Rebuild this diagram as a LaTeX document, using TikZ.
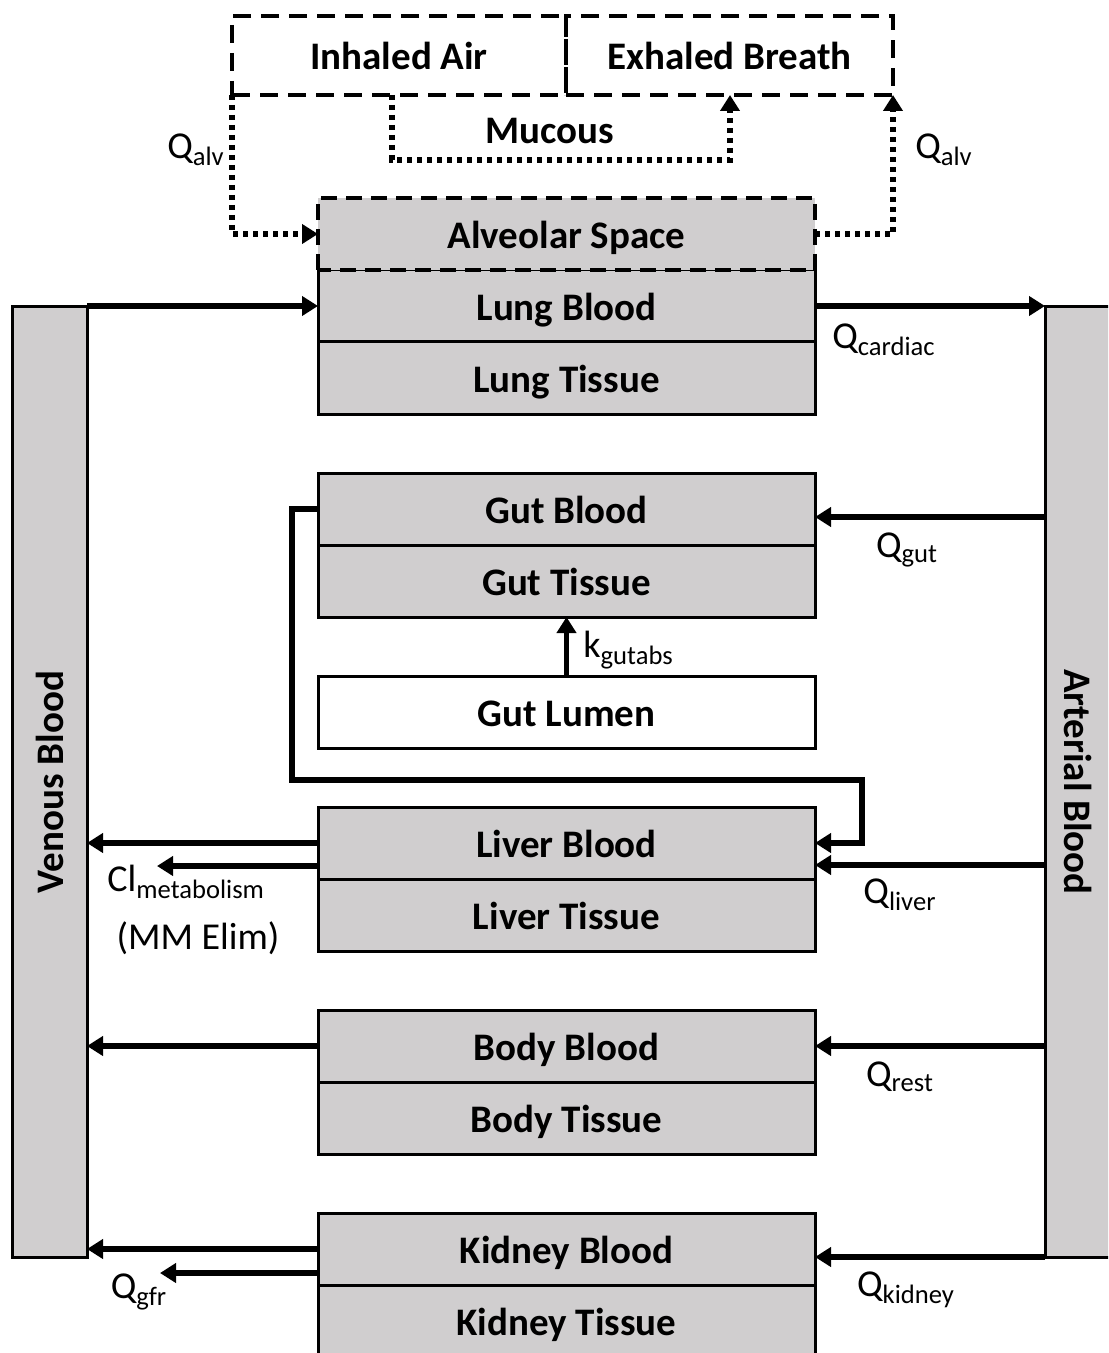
\documentclass[tikz,border=0pt]{standalone}
\usepackage{fontspec}
\setmainfont{Carlito}
\usepackage{graphicx}
\usepackage{tikz}
\usetikzlibrary{arrows.meta,positioning,calc}
\definecolor{boxgray}{RGB}{208,206,207}
\tikzset{
  comp/.style={draw, line width=1.5pt, fill=boxgray, minimum width=248.5pt,
    minimum height=36pt, inner sep=0pt, outer sep=0pt,
    text height=1.45em, text depth=0pt,
    font=\fontsize{19.5}{23}\selectfont\bfseries},
  airbox/.style={draw, line width=2.3pt, dash pattern=on 9pt off 5pt,
    minimum height=39.5pt, inner sep=0pt, outer sep=0pt,
    text height=1.45em, text depth=0pt,
    font=\fontsize{19.5}{23}\selectfont\bfseries},
  pool/.style={draw, line width=1.5pt, fill=boxgray, minimum width=37.5pt,
    minimum height=475pt, inner sep=0pt, outer sep=0pt,
    font=\fontsize{19.5}{23}\selectfont\bfseries},
  flow/.style={line width=2.8pt, -{Triangle[length=8pt,width=9.5pt]}},
  airflow/.style={line width=2.6pt, dash pattern=on 2.6pt off 2.4pt,
    -{Triangle[length=8pt,width=9.5pt]}},
  lbl/.style={inner sep=0pt, font=\fontsize{19}{23}\selectfont}
}
\begin{document}
\begin{tikzpicture}[x=0.5pt, y=-0.5pt]
    \useasboundingbox (0,0) rectangle (1108,1353);
    \clip (0,0) rectangle (1108,1353);

    % Air side
    \node[airbox, minimum width=167pt] (inhaled) at (399,55.5) {Inhaled Air};
    \node[airbox, minimum width=163.5pt] (exhaled) at (729.5,55.5) {Exhaled Breath};
    \node[font=\fontsize{19.5}{23}\selectfont\bfseries] (mucous) at (550,131) {Mucous};
    \coordinate (mucL) at (392,160);
    \coordinate (mucR) at (730,160);

    % Blood pools
    \node[pool] (venous) at (49.5,782) {\rotatebox{90}{Venous Blood}};
    \node[pool, minimum width=33.5pt] (arterial) at (1078.5,782) {\rotatebox{-90}{Arterial Blood}};

    % Compartments
    \node[comp] (lungblood) at (566.5,306) {Lung Blood};
    \node[comp, below=0pt of lungblood] (lungtissue) {Lung Tissue};
    \node[comp, draw=none, above=0pt of lungblood] (alveolar) {Alveolar Space};
    \draw[line width=2.3pt, dash pattern=on 8pt off 4.5pt]
        (alveolar.south west) rectangle (alveolar.north east);

    \node[comp] (gutblood) at (566.5,509) {Gut Blood};
    \node[comp, below=0pt of gutblood] (guttissue) {Gut Tissue};
    \node[comp, fill=white] (gutlumen) at (566.5,712) {Gut Lumen};

    \node[comp] (liverblood) at (566.5,843) {Liver Blood};
    \node[comp, below=0pt of liverblood] (livertissue) {Liver Tissue};

    \node[comp] (bodyblood) at (566.5,1046) {Body Blood};
    \node[comp, below=0pt of bodyblood] (bodytissue) {Body Tissue};

    \node[comp] (kidneyblood) at (566.5,1249) {Kidney Blood};
    \node[comp, below=0pt of kidneyblood] (kidneytissue) {Kidney Tissue};

    % Breathing
    \draw[airflow] (inhaled.south west) -- (inhaled.south west |- alveolar.west) -- (alveolar.west);
    \draw[airflow] (alveolar.east) -- (alveolar.east -| exhaled.south east) -- (exhaled.south east);
    \draw[airflow] (mucL |- inhaled.south) -- (mucL) -- (mucR) -- (mucR |- exhaled.south);
    \node[lbl] (qalvin) at (196,150) {Q\textsubscript{alv}};
    \node[lbl] (qalvout) at (944,150) {Q\textsubscript{alv}};

    % Cardiac output
    \draw[flow] (lungblood.west -| venous.east) -- (lungblood.west);
    \draw[flow] (lungblood.east) -- (lungblood.east -| arterial.west);
    \node[lbl] (qcardiac) at (884,340) {Q\textsubscript{cardiac}};

    % Gut
    \coordinate (gutin) at ([yshift=-4pt]gutblood.east);
    \draw[flow] (gutin -| arterial.west) -- (gutin);
    \node[lbl] (qgut) at (907,550) {Q\textsubscript{gut}};
    \draw[flow] (gutlumen.north) -- (guttissue.south);
    \node[lbl, anchor=west] (kgutabs) at (583,650) {k\textsubscript{gutabs}};

    % Portal flow
    \coordinate (portalA) at (292,780);
    \coordinate (portalB) at (862,780);
    \draw[flow] (gutblood.west) -- (gutblood.west -| portalA) -- (portalA)
        -- (portalB) -- (portalB |- liverblood.east) -- (liverblood.east);

    % Liver
    \coordinate (livin) at ([yshift=-11pt]liverblood.east);
    \draw[flow] (livin -| arterial.west) -- (livin);
    \node[lbl] (qliver) at (900,895) {Q\textsubscript{liver}};
    \draw[flow] (liverblood.west) -- (liverblood.west -| venous.east);
    \coordinate (clmet) at (157,866);
    \draw[flow] (clmet -| liverblood.west) -- (clmet);
    \node[lbl, anchor=west] (clmetlbl) at (107,882) {Cl\textsubscript{metabolism}};
    \node[lbl] (mmelim) at (198,938) {(MM Elim)};

    % Body
    \draw[flow] (bodyblood.east -| arterial.west) -- (bodyblood.east);
    \draw[flow] (bodyblood.west) -- (bodyblood.west -| venous.east);
    \node[lbl] (qrest) at (900,1077) {Q\textsubscript{rest}};

    % Kidney
    \draw[flow] (arterial.south west) -- (arterial.south west -| kidneyblood.east);
    \draw[flow] (kidneyblood.west) -- (kidneyblood.west -| venous.east);
    \coordinate (gfr) at (160,1273);
    \draw[flow] (gfr -| kidneyblood.west) -- (gfr);
    \node[lbl] (qkidney) at (906,1290) {Q\textsubscript{kidney}};
    \node[lbl] (qgfr) at (139,1292) {Q\textsubscript{gfr}};
\end{tikzpicture}
\end{document}
